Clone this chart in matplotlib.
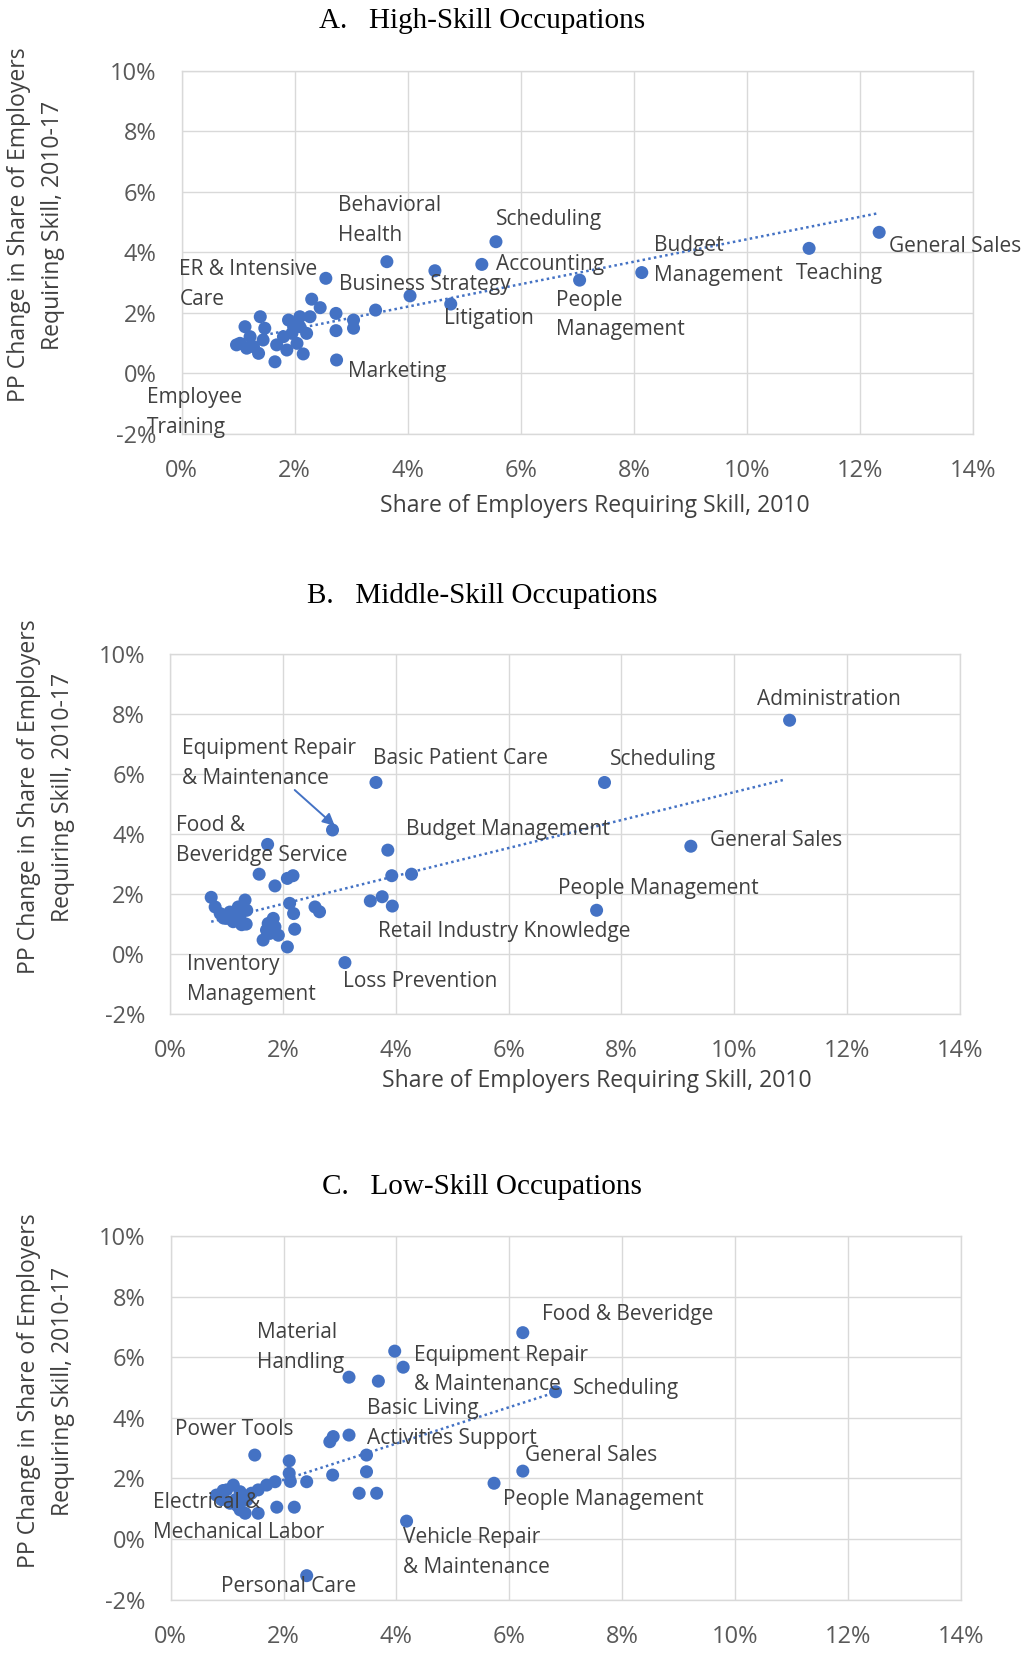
import matplotlib

matplotlib.use("Agg")
import matplotlib.pyplot as plt
from matplotlib.ticker import FuncFormatter, MultipleLocator

W, H = 1021, 1653
DOT = "#4472C4"
GRID = "#d9d9d9"
TEXT = "#404040"
TICK = "#595959"
SANS = ["Open Sans", "DejaVu Sans"]
SERIF = ["Liberation Serif", "DejaVu Serif"]

# ---- panel A: high-skill occupations (share 2010 %, pp change 2010-17 %)
high_x = [2.55, 3.63, 4.48, 5.31, 5.56, 4.04, 4.76, 3.43, 2.74, 3.04, 3.04, 2.73, 2.73,
          2.30, 2.45, 7.04, 8.14, 11.10, 12.34,
          1.65, 2.15, 1.39, 1.12, 1.03, 1.36, 1.47, 1.68, 1.89, 2.09, 2.27, 1.95, 2.21,
          1.86, 2.04, 1.21, 1.27, 1.44, 1.80, 2.09, 1.98, 0.97, 1.15]
high_y = [3.14, 3.69, 3.39, 3.60, 4.35, 2.56, 2.29, 2.09, 0.44, 1.76, 1.49, 1.98, 1.41,
          2.45, 2.17, 3.08, 3.33, 4.13, 4.66,
          0.38, 0.64, 1.87, 1.54, 0.99, 0.66, 1.49, 0.94, 1.76, 1.87, 1.87, 1.32, 1.32,
          0.77, 0.99, 1.21, 0.88, 1.10, 1.21, 1.54, 1.54, 0.94, 0.83]
high_trend = (0.371, 0.72, 0.97, 12.32)  # slope, intercept, x start, x end

# ---- panel B: middle-skill occupations
mid_x = [3.65, 2.88, 1.73, 3.86, 1.58, 1.86, 2.08, 2.18, 3.93, 4.28, 3.55, 3.76, 3.94,
         3.10, 2.08, 2.21, 2.12, 2.19, 2.57, 2.65, 1.65, 1.77, 1.86, 1.92, 1.74, 1.83, 1.71,
         0.73, 0.80, 0.89, 1.00, 1.12, 1.24, 1.33, 1.36, 1.35, 1.27, 1.18, 0.95, 1.06, 1.21,
         7.70, 10.98, 9.23, 7.56]
mid_y = [5.71, 4.13, 3.65, 3.46, 2.66, 2.27, 2.52, 2.61, 2.61, 2.66, 1.77, 1.91, 1.60,
         -0.28, 0.24, 0.83, 1.69, 1.35, 1.57, 1.41, 0.47, 0.69, 0.91, 0.63, 1.02, 1.19, 0.80,
         1.89, 1.57, 1.35, 1.19, 1.08, 1.24, 1.80, 1.46, 1.00, 0.98, 1.30, 1.20, 1.40, 1.57,
         5.71, 7.78, 3.59, 1.46]
mid_trend = (0.465, 0.74, 0.73, 10.86)

# ---- panel C: low-skill occupations
low_x = [6.24, 3.97, 4.12, 3.16, 3.68, 6.82, 3.16, 2.88, 2.82, 3.47, 3.47, 2.87, 3.34,
         3.65, 4.18, 2.41, 1.49, 2.10, 2.10, 2.12, 2.41, 1.88, 2.19, 1.55, 1.85, 1.70, 1.55,
         0.81, 0.99, 1.11, 1.23, 1.05, 1.23, 1.32, 1.35, 1.43, 1.15, 0.90, 0.93, 1.18,
         6.24, 5.73]
low_y = [6.81, 6.20, 5.67, 5.34, 5.21, 4.86, 3.43, 3.38, 3.21, 2.77, 2.22, 2.11, 1.51,
         1.51, 0.59, -1.21, 2.77, 2.58, 2.17, 1.90, 1.89, 1.05, 1.05, 0.85, 1.89, 1.78, 1.62,
         1.45, 1.62, 1.78, 1.56, 1.18, 0.96, 0.85, 1.29, 1.51, 1.30, 1.30, 1.60, 1.10,
         2.24, 1.84]
low_trend = (0.60, 0.75, 0.81, 6.82)

# label text, left x, vertical centre y (data units)
high_labels = [
    ("Behavioral\nHealth", 2.76, 5.05),
    ("ER & Intensive\nCare", -0.04, 2.94),
    ("Business Strategy", 2.79, 2.95),
    ("Scheduling", 5.56, 5.07),
    ("Accounting", 5.56, 3.60),
    ("Budget\nManagement", 8.36, 3.72),
    ("Teaching", 10.87, 3.31),
    ("General Sales", 12.52, 4.19),
    ("People\nManagement", 6.63, 1.93),
    ("Litigation", 4.64, 1.82),
    ("Marketing", 2.95, 0.05),
    ("Employee\nTraining", -0.62, -1.30),
]
mid_labels = [
    ("Equipment Repair\n& Maintenance", 0.21, 6.35),
    ("Basic Patient Care", 3.59, 6.51),
    ("Food &\nBeveridge Service", 0.11, 3.78),
    ("Budget Management", 4.19, 4.13),
    ("Retail Industry Knowledge", 3.68, 0.74),
    ("Inventory\nManagement", 0.30, -0.84),
    ("Loss Prevention", 3.07, -0.92),
    ("Scheduling", 7.80, 6.46),
    ("Administration", 10.40, 8.48),
    ("General Sales", 9.57, 3.79),
    ("People Management", 6.87, 2.19),
]
low_labels = [
    ("Material\nHandling", 1.53, 6.33),
    ("Power Tools", 0.08, 3.63),
    ("Electrical &\nMechanical Labor", -0.31, 0.71),
    ("Personal Care", 0.90, -1.57),
    ("Basic Living\nActivities Support", 3.48, 3.82),
    ("Equipment Repair\n& Maintenance", 4.31, 5.58),
    ("Food & Beveridge", 6.58, 7.42),
    ("Scheduling", 7.13, 4.97),
    ("General Sales", 6.28, 2.77),
    ("People Management", 5.89, 1.29),
    ("Vehicle Repair\n& Maintenance", 4.12, -0.45),
]


def rect(left, top, right, bottom):
    return [left / W, 1 - bottom / H, (right - left) / W, (bottom - top) / H]


def draw_panel(fig, box, xs, ys, trend, labels):
    ax = fig.add_axes(rect(*box))
    ax.set_xlim(0, 14)
    ax.set_ylim(-2, 10)
    ax.xaxis.set_major_locator(MultipleLocator(2))
    ax.yaxis.set_major_locator(MultipleLocator(2))
    fmt = FuncFormatter(lambda v, _: f"{v:.0f}%".replace("\u2212", "-"))
    ax.xaxis.set_major_formatter(fmt)
    ax.yaxis.set_major_formatter(fmt)
    ax.grid(True, color=GRID, linewidth=1.0)
    ax.set_axisbelow(True)
    for sp in ax.spines.values():
        sp.set_color(GRID)
        sp.set_linewidth(1.0)
    ax.tick_params(length=0, labelsize=17, labelcolor=TICK, pad=18)
    for t in ax.get_xticklabels() + ax.get_yticklabels():
        t.set_fontfamily(SANS)

    slope, icpt, x0, x1 = trend
    ax.plot([x0, x1], [icpt + slope * x0, icpt + slope * x1], color=DOT,
            linewidth=1.8, linestyle=(0, (1, 1.3)), zorder=2)
    ax.scatter(xs, ys, s=88, color=DOT, edgecolors="none", zorder=3)
    for text, lx, ly in labels:
        ax.text(lx, ly, text, ha="left", va="center", fontsize=15, color=TEXT,
                family=SANS, linespacing=1.55, zorder=4, clip_on=False)
    return ax


def main():
    fig = plt.figure(figsize=(W / 100, H / 100), dpi=100)

    ylab = "PP Change in Share of Employers\nRequiring Skill, 2010-17"
    xlab = "Share of Employers Requiring Skill, 2010"

    draw_panel(fig, (181.7, 70.8, 973, 433.8), high_x, high_y, high_trend, high_labels)
    mid_ax = draw_panel(fig, (170, 653.5, 960, 1014.3), mid_x, mid_y, mid_trend, mid_labels)
    draw_panel(fig, (170.7, 1236, 960.7, 1599.6), low_x, low_y, low_trend, low_labels)

    mid_ax.annotate("", xy=(2.92, 4.27), xytext=(2.21, 5.46),
                    arrowprops=dict(arrowstyle="-|>", color=DOT, lw=1.4,
                                    mutation_scale=18, shrinkA=0, shrinkB=0))

    titles = [
        ("A.   High-Skill Occupations", 482, 21),
        ("B.   Middle-Skill Occupations", 482, 596),
        ("C.   Low-Skill Occupations", 482, 1187),
    ]
    for text, px, py in titles:
        fig.text(px / W, 1 - py / H, text, ha="center", va="center",
                 fontsize=21, family=SERIF, color="black")

    for px, py in [(36, 225), (46, 797), (46, 1391)]:
        fig.text(px / W, 1 - py / H, ylab, rotation=90, ha="center", va="center",
                 multialignment="center", fontsize=16.6, family=SANS, color=TEXT,
                 linespacing=1.6)

    for px, py in [(595, 506), (597, 1081)]:
        fig.text(px / W, 1 - py / H, xlab, ha="center", va="center",
                 fontsize=16.6, family=SANS, color=TEXT)

    fig.savefig("out.png", dpi=100)
    plt.close(fig)


if __name__ == "__main__":
    main()
